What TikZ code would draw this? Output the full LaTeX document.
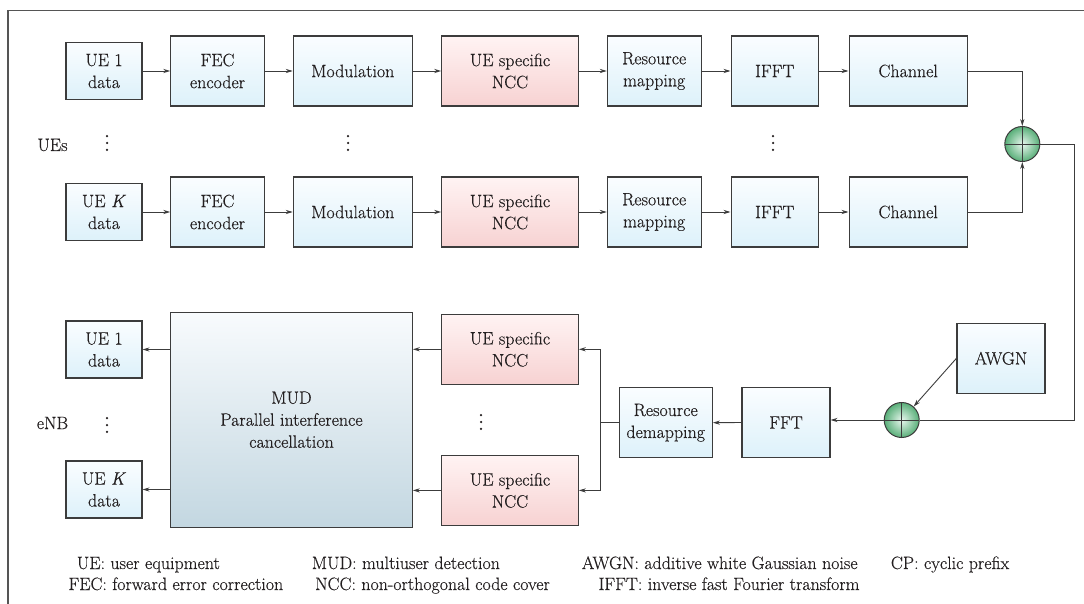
\documentclass[tikz,border=0pt]{standalone}
\usepackage{fontspec}
\setmainfont{Latin Modern Roman}[FakeBold=0.35]
\usetikzlibrary{arrows.meta}

\definecolor{ink}{HTML}{231F20}
\definecolor{edge}{HTML}{3C3C3C}
\definecolor{frame}{HTML}{555555}
\definecolor{blueT}{HTML}{FAFDFF}
\definecolor{blueB}{HTML}{DDF1FA}
\definecolor{pinkT}{HTML}{FFF3F3}
\definecolor{pinkB}{HTML}{F7D2D2}
\definecolor{mudT}{HTML}{F8FBFD}
\definecolor{mudB}{HTML}{C3D7E1}
\definecolor{sumIn}{HTML}{E8F7EE}
\definecolor{sumOut}{HTML}{58AE78}

\begin{document}
\begin{tikzpicture}[x=1pt,y=-1pt,
  font=\fontsize{17.9}{22}\selectfont,
  every node/.style={text=ink},
  base/.style={draw=edge,line width=1.1pt,align=center,inner sep=0pt},
  blk/.style={base,top color=blueT,bottom color=blueB},
  pk/.style={base,top color=pinkT,bottom color=pinkB},
  mud/.style={base,top color=mudT,bottom color=mudB},
  ueb/.style={minimum width=76pt,minimum height=57pt},
  fecb/.style={minimum width=93.5pt,minimum height=70pt},
  modb/.style={minimum width=119pt,minimum height=70pt},
  nccb/.style={minimum width=136.6pt,minimum height=70pt},
  rmb/.style={minimum width=93.7pt,minimum height=70pt},
  ifftb/.style={minimum width=87.3pt,minimum height=70pt},
  chb/.style={minimum width=118.3pt,minimum height=70pt},
  sumnode/.style={circle,draw=edge,line width=1pt,minimum size=35pt,inner sep=0pt,
    inner color=sumIn,outer color=sumOut,
    path picture={\draw[edge,line width=0.9pt]
      (path picture bounding box.north) -- (path picture bounding box.south)
      (path picture bounding box.west) -- (path picture bounding box.east);}},
  arr/.style={draw=edge,line width=0.9pt,-{Stealth[length=7pt,width=4.2pt]}},
  wire/.style={draw=edge,line width=0.9pt},
  legend/.style={anchor=base west,inner sep=0pt}
]
\useasboundingbox (0,0) rectangle (1084,604);

% open frame
\draw[frame,line width=1.3pt] (8,604) -- (8,10.5) -- (1084,10.5);

% transmitter chain, UE 1
\node[blk,ueb] (u1) at (104,71) {UE 1\\data};
\node[blk,fecb] (fec1) at (217.5,71) {FEC\\encoder};
\node[blk,modb] (mod1) at (352.8,71) {Modulation};
\node[pk,nccb] (ncc1) at (510,71) {UE specific\\NCC};
\node[blk,rmb] (rm1) at (654.2,71) {Resource\\mapping};
\node[blk,ifftb] (ifft1) at (774.7,71) {IFFT};
\node[blk,chb] (ch1) at (908.2,71) {Channel};

% transmitter chain, UE K
\node[blk,ueb] (u2) at (104,212) {UE \textit{K}\\data};
\node[blk,fecb] (fec2) at (217.5,212) {FEC\\encoder};
\node[blk,modb] (mod2) at (352.8,212) {Modulation};
\node[pk,nccb] (ncc2) at (510,212) {UE specific\\NCC};
\node[blk,rmb] (rm2) at (654.2,212) {Resource\\mapping};
\node[blk,ifftb] (ifft2) at (774.7,212) {IFFT};
\node[blk,chb] (ch2) at (908.2,212) {Channel};

\foreach \r in {1,2}{
  \draw[arr] (u\r) -- (fec\r);
  \draw[arr] (fec\r) -- (mod\r);
  \draw[arr] (mod\r) -- (ncc\r);
  \draw[arr] (ncc\r) -- (rm\r);
  \draw[arr] (rm\r) -- (ifft\r);
  \draw[arr] (ifft\r) -- (ch\r);
}

\node (lUE) at (52.5,145) {UEs};

% vertical ellipses between the repeated rows
\foreach \x/\y in {107/143, 348/143, 773/143, 481/422, 107/425}
  \foreach \d in {-6.8,0,6.8}
    \fill[ink] (\x,\y+\d) circle (1.25);

% channel superposition
\node[sumnode] (sum1) at (1022.3,144) {};
\draw[arr] (ch1.east) -| (sum1.north);
\draw[arr] (ch2.east) -| (sum1.south);

% receiver
\node[sumnode] (sum2) at (901.7,420) {};
\coordinate (rt) at (1074,420);
\draw[wire] (sum1.east) -| (rt) -- (sum2.east);
\node[blk,minimum width=88pt,minimum height=70pt] (awgn) at (1001,358.3) {AWGN};
\draw[arr] (awgn.west) -- (sum2);
\node[blk,minimum width=88pt,minimum height=70pt] (fft) at (786,422.5) {FFT};
\draw[arr] (sum2.west) -- (sum2.west -| fft.east);
\node[blk,minimum width=93.3pt,minimum height=70pt] (demap) at (665.7,422.7) {Resource\\demapping};
\draw[arr] (fft.west) -- (demap.east);

\node[pk,nccb] (ncc3) at (510,349.3) {UE specific\\NCC};
\node[pk,nccb] (ncc4) at (510,490.4) {UE specific\\NCC};
\coordinate (br) at (600.7,422.7);
\draw[wire] (demap.west) -- (br);
\draw[arr] (br) |- (ncc3.east);
\draw[arr] (br) |- (ncc4.east);

\node[mud,minimum width=241.6pt,minimum height=215.3pt] (mudb) at (291.5,419.7)
  {MUD\\Parallel interference\\cancellation};
\draw[arr] (ncc3.west) -- (ncc3.west -| mudb.east);
\draw[arr] (ncc4.west) -- (ncc4.west -| mudb.east);

\node[blk,ueb] (u3) at (104,349.5) {UE 1\\data};
\node[blk,ueb] (u4) at (104,489.5) {UE \textit{K}\\data};
\draw[arr] (u3.east -| mudb.west) -- (u3.east);
\draw[arr] (u4.east -| mudb.west) -- (u4.east);

\node (lNB) at (52.5,423) {eNB};

% abbreviations
\node[legend] (g1) at (76.7,569) {UE: user equipment};
\node[legend] (g2) at (68.3,590) {FEC: forward error correction};
\node[legend] (g3) at (311.7,569) {MUD: multiuser detection};
\node[legend] (g4) at (315,590) {NCC: non-orthogonal code cover};
\node[legend] (g5) at (581.7,569) {AWGN: additive white Gaussian noise};
\node[legend] (g6) at (598.3,590) {IFFT: inverse fast Fourier transform};
\node[legend] (g7) at (890.7,569) {CP: cyclic prefix};
\end{tikzpicture}
\end{document}
